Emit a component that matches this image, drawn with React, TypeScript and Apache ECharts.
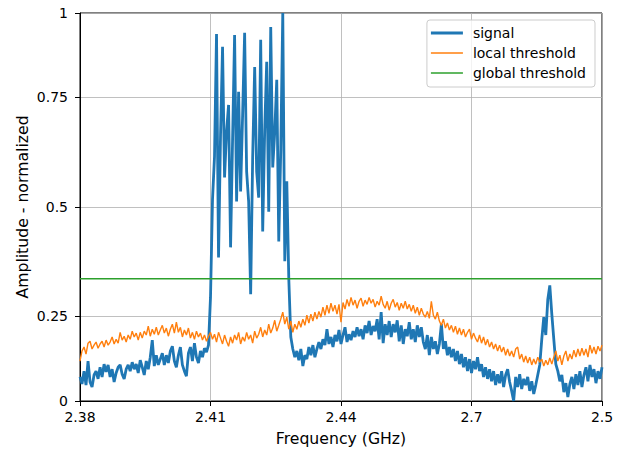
import React, { useEffect, useRef } from "react";
import * as echarts from "echarts";

const xTickLabels = ["2.38", "2.41", "2.44", "2.7", "2.5"];
const yTickValues = [0, 0.218, 0.5, 0.784, 1];
const yTickLabels = ["0", "0.25", "0.5", "0.75", "1"];
const binStep = 2;
const binMax = 520;

const signal = [
  0.062, 0.044, 0.077, 0.041, 0.103, 0.049, 0.036, 0.067, 0.077, 0.057,
  0.087, 0.062, 0.095, 0.075, 0.093, 0.062, 0.082, 0.049, 0.072, 0.087,
  0.093, 0.069, 0.057, 0.082, 0.093, 0.077, 0.1, 0.082, 0.095, 0.072,
  0.105, 0.087, 0.067, 0.103, 0.082, 0.113, 0.157, 0.09, 0.118, 0.093,
  0.108, 0.123, 0.093, 0.118, 0.098, 0.129, 0.141, 0.103, 0.087, 0.118,
  0.139, 0.093, 0.077, 0.064, 0.123, 0.139, 0.103, 0.149, 0.113, 0.098,
  0.129, 0.113, 0.136, 0.126, 0.144,
  0.267, 0.519, 0.63, 0.946, 0.37, 0.686, 0.913, 0.576, 0.694, 0.763,
  0.396, 0.674, 0.943, 0.514, 0.797, 0.54, 0.738, 0.949, 0.591, 0.514,
  0.275, 0.627, 0.861, 0.591, 0.524, 0.931, 0.437, 0.699, 0.874, 0.488,
  0.964, 0.602, 0.694, 0.828, 0.411, 0.648, 1.0, 0.36, 0.566, 0.314,
  0.165,
  0.134, 0.113, 0.129, 0.105, 0.134, 0.09, 0.118, 0.108, 0.139, 0.118,
  0.144, 0.113, 0.134, 0.152, 0.134, 0.159, 0.144, 0.185, 0.147, 0.165,
  0.139, 0.17, 0.154, 0.183, 0.147, 0.17, 0.19, 0.152, 0.172, 0.157,
  0.18, 0.165, 0.19, 0.167, 0.185, 0.159, 0.195, 0.175, 0.206, 0.17,
  0.193, 0.18, 0.211, 0.159, 0.229, 0.149, 0.198, 0.17, 0.206, 0.165,
  0.198, 0.177, 0.208, 0.154, 0.195, 0.147, 0.185, 0.167, 0.203, 0.159,
  0.185, 0.152, 0.195, 0.165, 0.19, 0.152, 0.134, 0.17, 0.118, 0.165,
  0.134, 0.154, 0.121, 0.147, 0.198, 0.134, 0.154, 0.118, 0.139, 0.113,
  0.134, 0.103, 0.129, 0.095, 0.121, 0.087, 0.113, 0.077, 0.108, 0.072,
  0.103, 0.082, 0.113, 0.077, 0.095, 0.062, 0.087, 0.057, 0.082, 0.051,
  0.077, 0.041, 0.069, 0.046, 0.077, 0.036, 0.067, 0.082, 0.049, 0.026,
  0.0, 0.062, 0.036, 0.069, 0.031, 0.057, 0.041, 0.062, 0.026, 0.051,
  0.018, 0.041, 0.067, 0.093, 0.159, 0.216, 0.17, 0.262, 0.298, 0.224,
  0.159, 0.095, 0.077, 0.051, 0.067, 0.023, 0.046, 0.01, 0.044, 0.062,
  0.031, 0.069, 0.041, 0.077, 0.036, 0.067, 0.087, 0.051, 0.093, 0.062,
  0.082, 0.046, 0.077, 0.057, 0.087,
];

const localThreshold = [
  0.103, 0.129, 0.139, 0.121, 0.149, 0.154, 0.134, 0.144, 0.152, 0.136,
  0.147, 0.154, 0.139, 0.157, 0.144, 0.152, 0.165, 0.147, 0.159, 0.149,
  0.177, 0.157, 0.167, 0.152, 0.17, 0.159, 0.18, 0.165, 0.175, 0.157,
  0.177, 0.162, 0.18, 0.17, 0.193, 0.167, 0.185, 0.172, 0.19, 0.17,
  0.183, 0.195, 0.175, 0.188, 0.167, 0.185, 0.198, 0.175, 0.203, 0.177,
  0.19, 0.165, 0.183, 0.17, 0.188, 0.162, 0.177, 0.159, 0.18, 0.165,
  0.175, 0.157, 0.17, 0.154, 0.167, 0.177, 0.159, 0.172, 0.152, 0.177,
  0.162, 0.147, 0.17, 0.154, 0.141, 0.165, 0.149, 0.17, 0.157, 0.177,
  0.147, 0.165, 0.154, 0.177, 0.159, 0.17, 0.149, 0.18, 0.162, 0.172,
  0.19, 0.165, 0.183, 0.17, 0.198, 0.175, 0.188, 0.208, 0.18, 0.195,
  0.211, 0.229, 0.198, 0.216, 0.185, 0.206, 0.177, 0.198, 0.185, 0.206,
  0.19, 0.211, 0.195, 0.221, 0.201, 0.224, 0.206, 0.229, 0.211, 0.231,
  0.216, 0.242, 0.221, 0.247, 0.226, 0.252, 0.231, 0.247, 0.224, 0.249,
  0.203, 0.254, 0.237, 0.262, 0.244, 0.267, 0.247, 0.26, 0.239, 0.257,
  0.265, 0.244, 0.26, 0.249, 0.267, 0.252, 0.262, 0.242, 0.257, 0.247,
  0.27, 0.249, 0.239, 0.257, 0.234, 0.252, 0.262, 0.242, 0.254, 0.234,
  0.252, 0.239, 0.257, 0.237, 0.249, 0.231, 0.247, 0.226, 0.242, 0.221,
  0.239, 0.224, 0.216, 0.231, 0.213, 0.257, 0.221, 0.211, 0.229, 0.206,
  0.195, 0.211, 0.188, 0.201, 0.183, 0.195, 0.177, 0.193, 0.172, 0.188,
  0.17, 0.185, 0.165, 0.177, 0.185, 0.159, 0.175, 0.162, 0.152, 0.17,
  0.149, 0.165, 0.144, 0.159, 0.139, 0.152, 0.134, 0.147, 0.129, 0.144,
  0.126, 0.139, 0.118, 0.134, 0.116, 0.129, 0.113, 0.134, 0.139, 0.108,
  0.121, 0.1, 0.116, 0.098, 0.113, 0.093, 0.108, 0.095, 0.113, 0.1,
  0.108, 0.09, 0.105, 0.093, 0.111, 0.095, 0.113, 0.129, 0.103, 0.118,
  0.093, 0.116, 0.129, 0.103, 0.121, 0.108, 0.131, 0.113, 0.134, 0.116,
  0.136, 0.118, 0.134, 0.113, 0.144, 0.123, 0.139, 0.121, 0.141, 0.129,
  0.144,
];

const globalThreshold = 0.315;

const FONT = "DejaVu Sans";

export default function App() {
  const ref = useRef<HTMLDivElement>(null);

  useEffect(() => {
    if (!ref.current) return;
    const chart = echarts.init(ref.current, undefined, { renderer: "svg" });
    const sigData = signal.map((v, i) => [i * binStep, v]);
    const locData = localThreshold.map((v, i) => [i * binStep, v]);
    const globData = [
      [0, globalThreshold],
      [binMax, globalThreshold],
    ];
    chart.setOption({
      animation: false,
      backgroundColor: "#ffffff",
      textStyle: { fontFamily: FONT },
      grid: {
        left: 80,
        right: 23,
        top: 13,
        bottom: 49,
        show: true,
        borderColor: "#000000",
        borderWidth: 1,
        backgroundColor: "transparent",
      },
      legend: {
        right: 30,
        top: 20,
        orient: "vertical",
        itemWidth: 32,
        itemHeight: 14,
        itemGap: 6,
        padding: [6, 9, 7, 4],
        backgroundColor: "rgba(255,255,255,0.8)",
        borderColor: "#cccccc",
        borderWidth: 1,
        borderRadius: 3,
        textStyle: { fontFamily: FONT, fontSize: 14, color: "#000", padding: [0, 0, 0, 5] },
        data: [
          { name: "signal", icon: "path://M0,0 L32,0 L32,3 L0,3 Z", itemStyle: { color: "#1f77b4" } },
          { name: "local threshold", icon: "path://M0,0 L32,0 L32,1.4 L0,1.4 Z", itemStyle: { color: "#ff7f0e" } },
          { name: "global threshold", icon: "path://M0,0 L32,0 L32,1.6 L0,1.6 Z", itemStyle: { color: "#2ca02c" } },
        ],
      },
      xAxis: {
        type: "value",
        min: 0,
        max: binMax,
        interval: 130,
        name: "Frequency (GHz)",
        nameLocation: "middle",
        nameGap: 29,
        nameMoveOverlap: false,
        nameTextStyle: { fontFamily: FONT, fontSize: 15.7, color: "#000" },
        axisLine: { show: true, lineStyle: { color: "#000", width: 1 } },
        axisTick: { show: true, inside: false, length: 5, lineStyle: { color: "#000", width: 1 } },
        axisLabel: {
          fontFamily: FONT,
          fontSize: 14,
          color: "#000",
          margin: 9,
          formatter: (v: number) => xTickLabels[Math.round(v / 130)] ?? "",
        },
        splitLine: { show: true, lineStyle: { color: "#b0b0b0", width: 0.8 } },
      },
      yAxis: {
        type: "value",
        min: 0,
        max: 1,
        name: "Amplitude - normalized",
        nameLocation: "middle",
        nameGap: 50,
        nameMoveOverlap: false,
        nameTextStyle: { fontFamily: FONT, fontSize: 15.7, color: "#000" },
        axisLine: { show: true, lineStyle: { color: "#000", width: 1 } },
        axisTick: {
          show: true,
          inside: false,
          length: 5,
          customValues: yTickValues,
          lineStyle: { color: "#000", width: 1 },
        },
        axisLabel: {
          fontFamily: FONT,
          fontSize: 14,
          color: "#000",
          margin: 12,
          customValues: yTickValues,
          formatter: (v: number) => {
            const idx = yTickValues.findIndex((t) => Math.abs(t - v) < 1e-6);
            return idx >= 0 ? yTickLabels[idx] : "";
          },
        },
        splitLine: { show: true, lineStyle: { color: "#b0b0b0", width: 0.8 } },
      },
      series: [
        {
          name: "signal",
          type: "line",
          data: sigData,
          symbol: "none",
          showSymbol: false,
          lineStyle: { color: "#1f77b4", width: 2.8 },
          itemStyle: { color: "#1f77b4" },
          z: 2,
        },
        {
          name: "local threshold",
          type: "line",
          data: locData,
          symbol: "none",
          showSymbol: false,
          lineStyle: { color: "#ff7f0e", width: 1.4 },
          itemStyle: { color: "#ff7f0e" },
          z: 3,
        },
        {
          name: "global threshold",
          type: "line",
          data: globData,
          symbol: "none",
          showSymbol: false,
          lineStyle: { color: "#2ca02c", width: 1.5 },
          itemStyle: { color: "#2ca02c" },
          z: 4,
        },
      ],
    });
    return () => chart.dispose();
  }, []);

  return (
    <div
      ref={ref}
      style={{ position: "fixed", left: 0, top: 0, width: 625, height: 451 }}
    />
  );
}
